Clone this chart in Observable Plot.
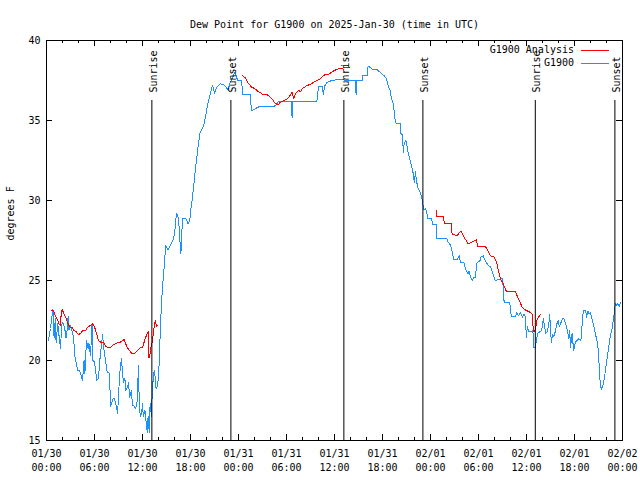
<!DOCTYPE html>
<html><head><meta charset="utf-8">
<script src="https://cdn.jsdelivr.net/npm/d3@7"></script>
<script src="https://cdn.jsdelivr.net/npm/@observablehq/plot@0.6"></script>
<style>body{margin:0;background:#fff} svg{display:block}</style>
</head><body><div id="chart"></div>
<script>
// hours since 2025-01-30 00:00 UTC, dew point (deg F)
const g1900 = [
[0.25,21.25],[0.5,22.0],[0.8,23.2],[0.95,21.4],[1.1,22.6],[1.2,21.1],[1.4,22.3],[1.6,21.4],[1.75,20.75],[1.9,22.2],
[2.0,22.4],[2.25,22.1],[2.45,21.4],[2.6,22.0],[2.7,22.75],[2.8,21.9],[3.0,22.2],[3.25,21.75],[3.4,21.4],[3.5,20.4],
[3.7,19.9],[3.9,19.4],[4.1,19.4],[4.3,19.1],[4.5,18.75],[4.7,20.0],[4.8,19.2],[5.0,21.25],[5.2,20.75],[5.3,21.1],
[5.5,20.3],[5.7,22.3],[5.8,20.0],[6.0,19.9],[6.2,19.1],[6.3,18.75],[6.5,18.9],[6.7,20.2],[6.9,21.06],[7.0,21.6],
[7.2,20.6],[7.4,19.9],[7.6,19.25],[7.8,19.25],[7.9,18.9],[8.0,17.1],[8.2,17.4],[8.3,17.6],[8.5,17.6],[8.75,17.1],
[8.9,16.7],[9.0,17.9],[9.2,19.4],[9.35,20.1],[9.5,19.4],[9.6,18.6],[9.8,18.9],[9.9,18.1],[10.1,18.3],[10.25,18.6],
[10.4,17.7],[10.6,18.1],[10.75,17.2],[10.9,17.2],[11.1,17.0],[11.3,17.2],[11.5,19.7],[11.6,17.1],[11.75,16.5],[11.9,16.75],
[12.0,17.3],[12.1,16.5],[12.3,16.9],[12.5,15.9],[12.6,15.5],[12.7,16.5],[12.85,15.5],[12.9,17.0],[13.0,17.3],[13.1,16.5],
[13.25,18.3],[13.4,19.2],[13.5,19.4],[13.7,18.25],[13.9,18.4],[14.1,19.9],[14.25,22.3],[14.4,23.75],[14.5,24.6],[14.7,25.8],
[14.9,27.2],[15.2,26.9],[15.5,27.2],[15.8,27.5],[16.0,27.9],[16.25,29.2],[16.5,28.9],[16.7,27.3],[16.8,26.7],[17.0,28.9],
[17.4,28.9],[17.7,28.55],[17.9,28.75],[18.0,29.2],[18.1,29.7],[18.25,30.2],[18.4,30.9],[18.6,31.9],[18.8,32.7],[19.0,33.6],
[19.2,34.25],[19.5,34.5],[19.75,34.9],[20.0,35.6],[20.2,36.1],[20.5,36.75],[20.75,37.2],[21.0,36.7],[21.3,37.1],[21.7,37.3],
[22.1,37.25],[22.4,37.1],[22.7,36.9],[22.9,37.3],[23.2,37.6],[23.5,38.0],[23.7,37.8],[23.9,37.5],[24.4,37.5],[24.5,36.6],
[25.5,36.6],[25.6,35.6],[26.0,35.7],[26.3,35.8],[26.75,35.9],[28.5,35.9],[28.8,36.0],[29.0,36.2],[30.6,36.2],[30.7,35.2],
[30.8,36.2],[33.8,36.2],[34.0,37.15],[34.5,37.15],[34.6,36.6],[34.75,37.15],[35.1,37.4],[35.7,37.5],[36.3,37.55],[38.6,37.5],
[38.7,36.6],[38.8,37.5],[39.5,37.5],[39.55,37.8],[40.1,37.8],[40.2,38.4],[40.5,38.3],[40.7,38.2],[41.3,38.2],[41.5,38.1],
[42.2,37.8],[42.5,37.6],[42.7,37.2],[43.0,36.8],[43.1,36.4],[43.4,36.0],[43.5,35.2],[43.7,34.8],[44.25,34.8],[44.3,34.2],
[44.5,34.1],[44.6,33.0],[44.7,33.5],[44.9,33.75],[45.0,33.6],[45.2,33.0],[45.4,32.6],[45.6,32.2],[45.8,31.8],[46.0,31.1],
[46.1,31.8],[46.25,31.25],[46.4,30.8],[46.7,30.5],[46.9,30.2],[47.0,29.9],[47.2,29.4],[47.4,29.5],[47.5,29.3],[47.7,28.85],
[48.1,28.85],[48.3,28.5],[48.75,28.5],[48.8,27.6],[49.5,27.6],[50.0,27.65],[50.2,27.4],[50.5,27.2],[50.7,26.8],[50.9,26.3],
[51.3,26.3],[51.6,26.55],[51.75,26.1],[52.2,26.1],[52.4,25.7],[52.7,25.4],[52.8,25.6],[53.0,25.2],[53.2,25.0],[53.4,25.2],
[53.6,25.2],[53.8,26.1],[54.2,26.25],[54.3,26.45],[54.6,26.55],[54.75,26.35],[55.0,26.1],[55.3,25.9],[55.5,25.9],[55.7,25.6],
[56.1,25.0],[56.75,25.1],[57.0,25.1],[57.1,24.5],[57.2,23.65],[57.9,23.65],[58.1,22.75],[58.6,22.75],[58.8,23.0],[59.0,22.8],
[59.25,23.0],[59.5,22.7],[59.7,22.9],[59.9,22.7],[59.96,21.45],[60.1,22.1],[60.3,21.8],[60.6,21.8],[60.8,21.9],[60.9,20.8],
[61.1,20.8],[61.25,21.25],[61.4,21.7],[61.7,21.8],[61.9,21.9],[62.1,22.6],[62.25,22.2],[62.4,21.7],[62.6,21.8],[62.8,22.3],
[62.9,22.9],[63.1,21.15],[63.25,21.6],[63.4,21.5],[63.6,21.8],[63.8,22.3],[64.0,22.5],[64.1,22.1],[64.25,22.3],[64.5,22.6],
[64.7,22.6],[64.9,22.3],[65.1,21.9],[65.3,21.35],[65.4,21.9],[65.5,20.8],[65.7,21.7],[65.9,20.6],[66.1,21.15],[66.3,21.25],
[66.5,21.35],[66.8,21.25],[66.96,22.3],[67.1,23.1],[67.4,23.1],[67.5,22.7],[67.7,23.1],[67.8,22.9],[68.0,23.0],[68.2,22.6],
[68.4,22.2],[68.6,21.7],[68.8,21.25],[69.0,20.6],[69.1,19.4],[69.25,18.4],[69.4,18.2],[69.6,18.55],[69.75,18.95],[69.9,19.5],
[70.1,20.2],[70.3,20.9],[70.5,21.6],[70.7,22.0],[70.9,22.7],[71.1,23.55],[71.25,23.45],[71.4,23.55],[71.6,23.4],[71.75,23.65]
];
const analysisA = [
[0.6,23.1],[0.9,23.1],[1.1,22.8],[1.4,22.5],[1.6,22.25],[1.75,22.2],[1.8,22.7],[1.95,23.2],[2.2,22.9],[2.4,22.7],
[2.6,22.4],[2.9,22.1],[3.2,22.05],[3.4,21.9],[3.7,21.8],[4.0,21.6],[4.25,21.7],[4.6,21.9],[4.9,21.9],[5.2,22.1],
[5.5,22.2],[5.8,22.3],[6.0,22.1],[6.25,21.7],[6.5,21.25],[6.75,21.15],[7.1,21.15],[7.4,20.9],[7.7,20.8],[8.0,20.8],
[8.4,21.0],[8.8,21.1],[9.25,21.15],[9.7,21.3],[9.9,21.05],[10.1,20.8],[10.4,20.6],[10.7,20.4],[11.0,20.45],[11.3,20.6],
[11.75,20.8],[12.0,20.8],[12.2,21.15],[12.4,21.45],[12.6,21.7],[12.7,21.8],[12.8,20.2],[12.9,20.2],[13.0,20.7],[13.25,21.25],
[13.4,21.9],[13.5,22.3],[13.6,22.5],[13.75,22.1],[13.9,22.2]
];
const analysisB = [
[24.5,37.8],[24.9,37.65],[25.2,37.35],[25.6,37.1],[26.0,37.0],[26.5,36.8],[27.0,36.65],[27.4,36.65],[27.8,36.55],[28.2,36.35],
[28.6,36.05],[29.0,36.0],[29.25,36.15],[29.7,36.25],[30.1,36.35],[30.5,36.6],[30.7,36.75],[30.9,36.35],[31.1,36.65],[31.5,36.9],
[31.75,36.8],[32.0,37.0],[32.3,37.1],[32.6,37.2],[33.0,37.25],[33.4,37.4],[33.8,37.5],[34.25,37.6],[34.5,37.75],[34.9,37.9],
[35.3,37.9],[35.6,38.0],[35.9,38.1],[36.3,38.2],[36.75,38.25],[37.2,38.3],[37.9,38.3]
];
const analysisC = [
[48.7,29.4],[48.8,29.0],[49.6,29.0],[49.75,28.55],[50.6,28.55],[50.7,27.9],[51.3,27.8],[51.8,28.1],[52.2,27.7],[52.7,27.3],
[53.2,27.4],[53.75,27.55],[53.9,27.1],[54.9,27.1],[55.5,26.55],[56.0,26.45],[56.3,26.05],[56.5,25.6],[56.75,25.1],[57.1,24.8],
[57.4,24.4],[57.6,24.3],[58.6,24.3],[59.0,23.85],[59.5,23.3],[59.9,23.15],[60.5,23.0],[60.7,22.9],[60.8,22.2],[60.9,21.8],
[61.0,21.8],[61.2,22.2],[61.3,22.5],[61.5,22.7],[61.75,22.9]
];
const eventHours = [13.17, 23.05, 37.17, 47.05, 61.1, 71.05];
const eventLabels = ["Sunrise", "Sunset", "Sunrise", "Sunset", "Sunrise", "Sunset"];
const majorHours = [0, 6, 12, 18, 24, 30, 36, 42, 48, 54, 60, 66, 72];
const tickDates = ["01/30","01/30","01/30","01/30","01/31","01/31","01/31","01/31","02/01","02/01","02/01","02/01","02/02"];
const tickTimes = ["00:00","06:00","12:00","18:00","00:00","06:00","12:00","18:00","00:00","06:00","12:00","18:00","00:00"];
const minorHours = d3.range(0, 73, 2);
const yTicks = [15, 20, 25, 30, 35, 40];
const titleText = "Dew Point for G1900 on 2025-Jan-30 (time in UTC)";
const yLabel = "degrees F";
const seriesNames = ["G1900 Analysis", "G1900"];
const seriesColors = ["#ff0000", "#1e90ff"];

const blueData = g1900.map(([h, v]) => ({h, v}));
const redData = [analysisA, analysisB, analysisC].flatMap((s, k) => s.map(([h, v]) => ({h, v, seg: k})));
const events = eventHours.map((h, i) => ({h, label: eventLabels[i]}));

const W = 640, H = 480, ML = 46, MR = 18, MT = 40, MB = 40;
const FW = W - ML - MR, FH = H - MT - MB;

const chart = Plot.plot({
  width: W, height: H, marginLeft: ML, marginRight: MR, marginTop: MT, marginBottom: MB,
  style: {fontFamily: "DejaVu Sans Mono", fontSize: "10px", background: "white", color: "black", overflow: "visible"},
  x: {type: "linear", domain: [0, 72], axis: null},
  y: {type: "linear", domain: [15, 40], axis: null},
  marks: [
    Plot.line(blueData, {x: "h", y: "v", stroke: seriesColors[1], strokeWidth: 1, shapeRendering: "crispEdges"}),
    Plot.line(redData, {x: "h", y: "v", z: "seg", stroke: seriesColors[0], strokeWidth: 1, shapeRendering: "crispEdges"}),
    Plot.ruleX(events, {x: "h", insetTop: 60, stroke: "black", strokeWidth: 1}),
    Plot.text(events, {x: "h", text: "label", frameAnchor: "top", dy: 52, dx: -2, rotate: -90, textAnchor: "start", fill: "black"}),
    // ticks (inward, mirrored)
    Plot.ruleX(minorHours, {x: d => d, insetTop: FH - 3, stroke: "black"}),
    Plot.ruleX(minorHours, {x: d => d, insetBottom: FH - 3, stroke: "black"}),
    Plot.ruleX(majorHours, {x: d => d, insetTop: FH - 6, stroke: "black"}),
    Plot.ruleX(majorHours, {x: d => d, insetBottom: FH - 6, stroke: "black"}),
    Plot.ruleY(yTicks, {y: d => d, insetRight: FW - 6, stroke: "black"}),
    Plot.ruleY(yTicks, {y: d => d, insetLeft: FW - 6, stroke: "black"}),
    Plot.frame({stroke: "black"}),
    // tick labels
    Plot.text(majorHours, {x: d => d, text: (d, i) => tickDates[i], frameAnchor: "bottom", dy: 16, fill: "black"}),
    Plot.text(majorHours, {x: d => d, text: (d, i) => tickTimes[i], frameAnchor: "bottom", dy: 30, fill: "black"}),
    Plot.text(yTicks, {y: d => d, text: d => String(d), frameAnchor: "left", dx: -6, textAnchor: "end", fill: "black"}),
    Plot.text([yLabel], {frameAnchor: "left", dx: -36, rotate: -90, fill: "black"}),
    Plot.text([titleText], {frameAnchor: "top", dy: -20, fill: "black"})
  ]
});

// legend (top-right, inside the frame)
const svg = d3.select(chart);
const lg = svg.append("g").attr("font-family", "DejaVu Sans Mono").attr("font-size", 10);
seriesNames.forEach((name, i) => {
  const y = MT + 10 + i * 13;
  lg.append("text").attr("x", W - MR - 48).attr("y", y).attr("dy", "0.32em")
    .attr("text-anchor", "end").attr("fill", "black").text(name);
  lg.append("line").attr("x1", W - MR - 41).attr("x2", W - MR - 13)
    .attr("y1", y + 0.5).attr("y2", y + 0.5).attr("stroke", seriesColors[i]).attr("stroke-width", 1)
    .attr("shape-rendering", "crispEdges");
});

document.getElementById("chart").appendChild(chart);
</script>
</body></html>
